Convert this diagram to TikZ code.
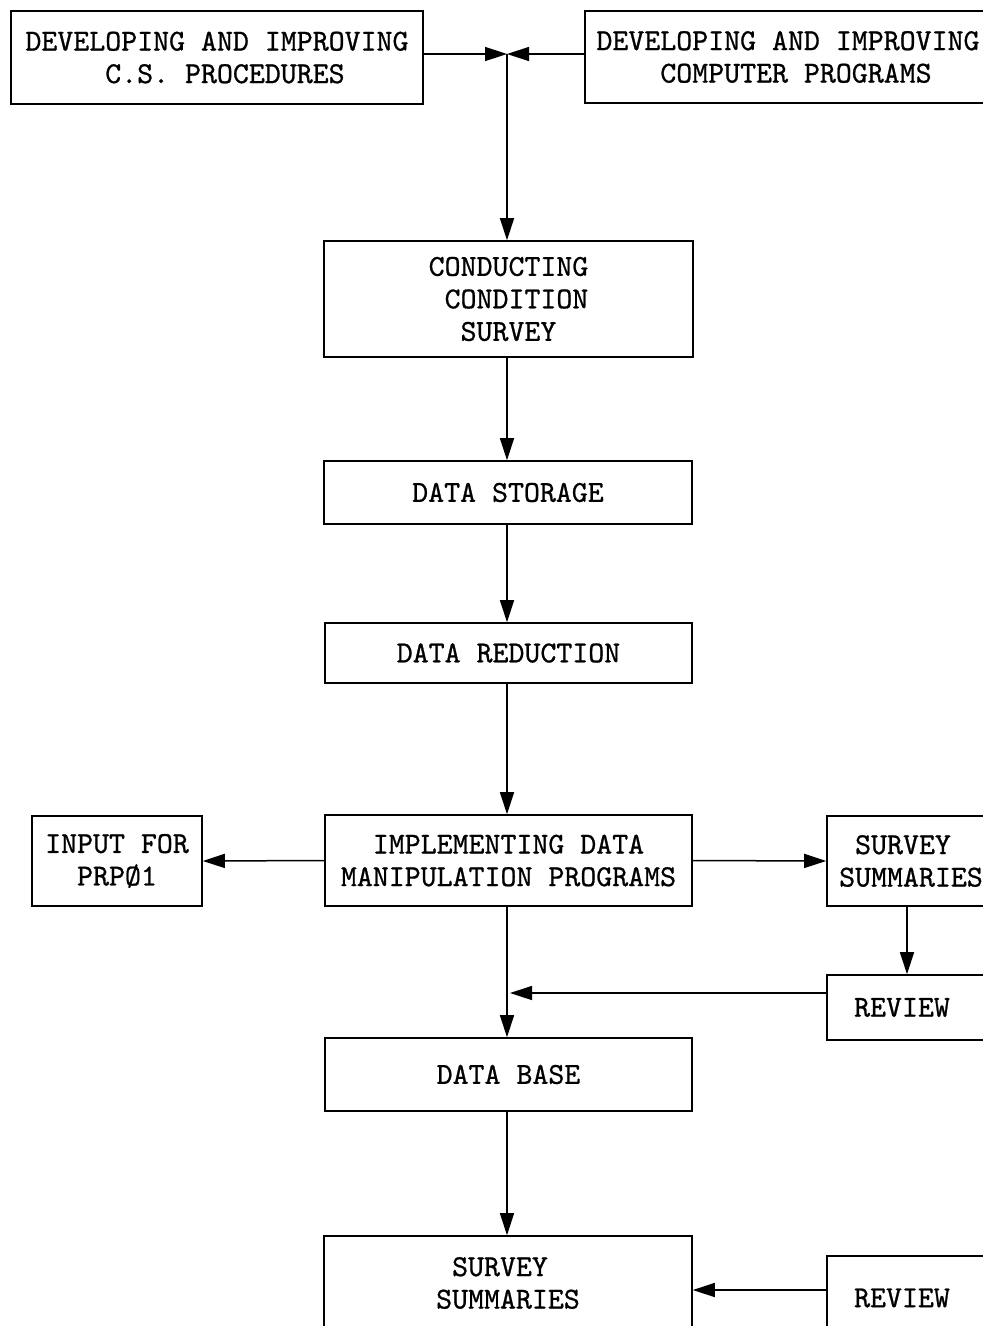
\documentclass[tikz,border=0pt]{standalone}
\usepackage{fontspec}
\newfontfamily\tw{lmmono10-regular.otf}[FakeBold=0.8]
\usetikzlibrary{arrows.meta}
\begin{document}
\begin{tikzpicture}[x=1pt,y=-1pt,
  box/.style={draw, line width=1.6pt, inner sep=0pt, align=center,
    font=\fontsize{30.4}{32.5}\selectfont\tw},
  arr/.style={line width=1.5pt, -{Triangle[length=22pt,width=14pt]}},
  ln/.style={line width=1.5pt}]
\useasboundingbox (0,0) rectangle (983,1326);
\clip (0,0) rectangle (983,1326);
\fill[white] (0,0) rectangle (983,1326);
% boxes
\node[box, align=left, minimum width=412pt, minimum height=93pt] (b1) at (217,57.5)
  {DEVELOPING AND IMPROVING\\\hphantom{DEVEL}C.S. PROCEDURES};
\node[box, align=left, minimum width=406pt, minimum height=92pt] (b2) at (788,57)
  {DEVELOPING AND IMPROVING\\\hphantom{DEVE}COMPUTER PROGRAMS};
\node[box, align=left, minimum width=369pt, minimum height=116pt] (b3) at (508.5,299)
  {CONDUCTING\\\hphantom{C}CONDITION\\\hphantom{CC}SURVEY};
\node[box, minimum width=368pt, minimum height=63pt] (b4) at (508,492.5) {DATA STORAGE};
\node[box, minimum width=367pt, minimum height=60pt] (b5) at (508.5,653) {DATA REDUCTION};
\node[box, minimum width=367pt, minimum height=91pt] (b6) at (508.5,860.5)
  {IMPLEMENTING DATA\\MANIPULATION PROGRAMS};
\node[box, minimum width=170pt, minimum height=90pt] (inp) at (117,861)
  {INPUT FOR\\PRPØ1};
\node[box, align=left, minimum width=168pt, minimum height=90pt] (ssr) at (911,861)
  {\hphantom{S}SURVEY\\SUMMARIES};
\node[box, minimum width=168pt, minimum height=65pt] (rev1) at (911,1007.5)
  {\hbox{REVIEW\kern18pt}};
\node[box, minimum width=367pt, minimum height=73pt] (db) at (508.5,1074.5) {DATA BASE};
\node[box, align=left, minimum width=368pt, minimum height=94pt] (ss2) at (508,1283)
  {\hphantom{S}SURVEY\\SUMMARIES};
\node[box, minimum width=168pt, minimum height=84pt] (rev2) at (911,1298)
  {\hbox{REVIEW\kern18pt}};
% junction and helper coordinates
\coordinate (j) at (507,54);
\coordinate (m) at (507,993);
\coordinate (k) at (907,0);
\coordinate (n) at (0,1290);
% connectors
\draw[arr] (b1.east |- j) -- (j);
\draw[arr] (b2.west |- j) -- (j);
\draw[arr] (j) -- (j |- b3.north);
\draw[arr] (j |- b3.south) -- (j |- b4.north);
\draw[arr] (j |- b4.south) -- (j |- b5.north);
\draw[arr] (j |- b5.south) -- (j |- b6.north);
\draw[arr] (b6.west) -- (inp.east);
\draw[arr] (b6.east) -- (ssr.west);
\draw[arr] (k |- ssr.south) -- (k |- rev1.north);
\draw[arr] (rev1.west |- m) -- ([xshift=3pt]m);
\draw[arr] (j |- b6.south) -- (j |- db.north);
\draw[arr] (j |- db.south) -- (j |- ss2.north);
\draw[arr] (rev2.west |- n) -- (ss2.east |- n);
\end{tikzpicture}
\end{document}
